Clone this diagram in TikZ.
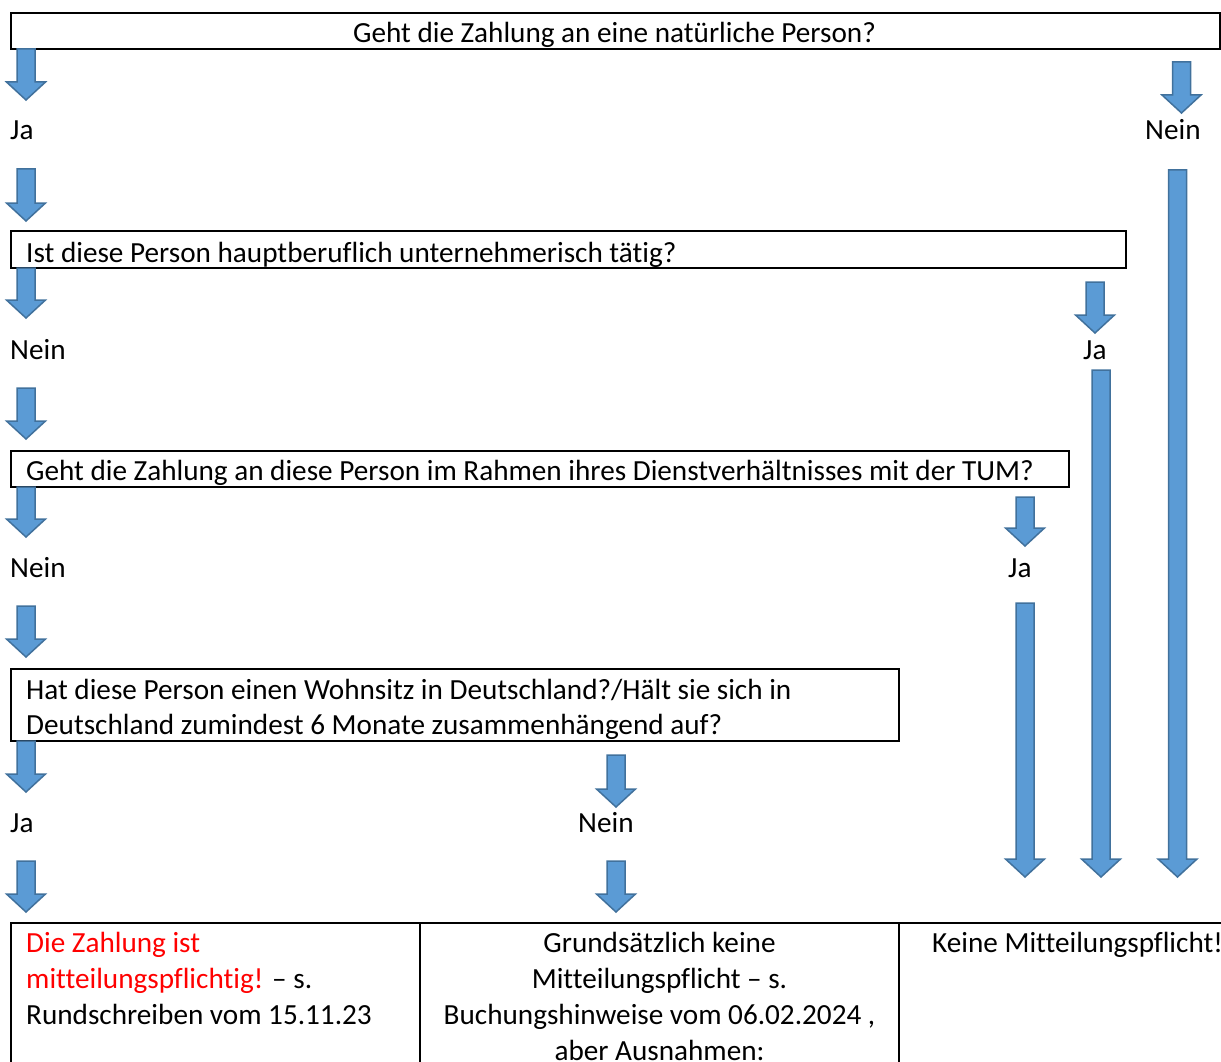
\documentclass[tikz,border=0pt]{standalone}
\usepackage{fontspec}
\setmainfont{Carlito}[Ligatures={NoCommon}]
\definecolor{arrfill}{HTML}{5B9BD5}
\definecolor{arrline}{HTML}{41719C}
\newcommand\barrow[3]{%
  \draw[blockarrow] ({#1-9},#2) -- ({#1+9},#2) -- ({#1+9},{#3-18}) -- ({#1+19.5},{#3-18}) -- (#1,#3) -- ({#1-19.5},{#3-18}) -- ({#1-9},{#3-18}) -- cycle;}
\begin{document}
\begin{tikzpicture}[x=1pt,y=-1pt,
  box/.style={draw=black,line width=2pt},
  lbl/.style={anchor=base west,inner sep=0pt,yshift=-2pt,font=\fontsize{29.2}{36}\selectfont},
  clbl/.style={anchor=base,inner sep=0pt,yshift=-2pt,font=\fontsize{29.2}{36}\selectfont},
  blockarrow/.style={fill=arrfill,draw=arrline,line width=1.5pt,line join=miter}]
\useasboundingbox (0,0) rectangle (1221,1062);

% question boxes
\draw[box] (11,13) rectangle (1220,49);
\node[clbl] (q1) at (614.5,41) {Geht die Zahlung an eine natürliche Person?};
\draw[box] (11,231) rectangle (1126,268);
\node[lbl] (q2) at (26,260) {Ist diese Person hauptberuflich unternehmerisch tätig?};
\draw[box] (11,451) rectangle (1069,487);
\node[lbl] (q3) at (26,478) {Geht die Zahlung an diese Person im Rahmen ihres Dienstverhältnisses mit der TUM?};
\draw[box] (11,669) rectangle (899,741);
\node[lbl] (q4a) at (26,697) {Hat diese Person einen Wohnsitz in Deutschland?/Hält sie sich in};
\node[lbl] (q4b) at (26,732) {Deutschland zumindest 6 Monate zusammenhängend auf?};

% answer labels
\node[lbl] (a1) at (10,138) {Ja};
\node[lbl] (a1n) at (1145,138) {Nein};
\node[lbl] (a2) at (10,357) {Nein};
\node[lbl] (a2j) at (1083,357) {Ja};
\node[lbl] (a3) at (10,575) {Nein};
\node[lbl] (a3j) at (1008,575) {Ja};
\node[lbl] (a4) at (10,830) {Ja};
\node[lbl] (a4n) at (578,830) {Nein};

% arrows left column
\barrow{26}{49}{100}
\barrow{26}{169}{221}
\barrow{26}{268}{318}
\barrow{26}{388}{439}
\barrow{26}{487}{537}
\barrow{26}{606}{657}
\barrow{26}{741}{792}
\barrow{26}{861}{912}
% middle
\barrow{616}{755}{807}
\barrow{616}{861}{912}
% right
\barrow{1181.5}{62}{113}
\barrow{1177.5}{170}{877}
\barrow{1095}{282}{333}
\barrow{1101}{370}{877}
\barrow{1025}{497}{546}
\barrow{1025}{603}{877}

% result table
\draw[box] (11,1080) -- (11,923) -- (1240,923);
\draw[box] (420,923) -- (420,1080);
\draw[box] (899,923) -- (899,1080);

\node[lbl,text=red] (r1a) at (26,950) {Die Zahlung ist};
\node[lbl] (r1b) at (26,986) {\textcolor{red}{mitteilungspflichtig!} – s.};
\node[lbl] (r1c) at (26,1022) {Rundschreiben vom 15.11.23};

\node[clbl] (r2a) at (659.5,950) {Grundsätzlich keine};
\node[clbl] (r2b) at (659.5,986) {Mitteilungspflicht – s.};
\node[clbl] (r2c) at (659.5,1022) {Buchungshinweise vom 06.02.2024 ,};
\node[clbl] (r2d) at (659.5,1058) {aber Ausnahmen:};

\node[lbl] (r3) at (932,950) {Keine Mitteilungspflicht!};
\end{tikzpicture}
\end{document}
